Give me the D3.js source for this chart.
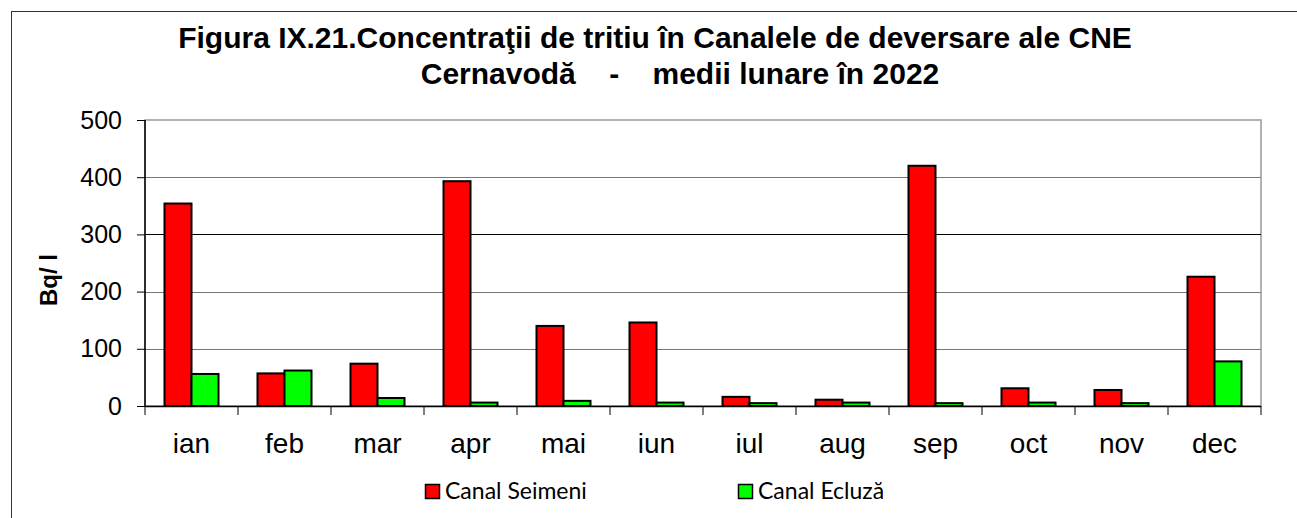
<!DOCTYPE html>
<html><head><meta charset="utf-8">
<script src="https://cdn.jsdelivr.net/npm/d3@7"></script>
<style>body{margin:0;background:#fff}svg{display:block}</style>
</head><body>
<script>
const months = ["ian","feb","mar","apr","mai","iun","iul","aug","sep","oct","nov","dec"];
const seimeni = [354, 57, 74, 393, 140, 146, 16, 11, 420, 31, 28, 226];
const ecluza = [56, 62, 14, 6, 9, 6, 5, 6, 5, 6, 5, 78];
const seriesNames = ["Canal Seimeni", "Canal Ecluză"];
const yTicks = [0, 100, 200, 300, 400, 500];
const titleLines = ["Figura IX.21.Concentraţii de tritiu în Canalele de deversare ale CNE", "Cernavodă    -    medii lunare în 2022"];
const yLabel = "Bq/ l";

const W = 1297, H = 518;
const svg = d3.select("body").append("svg").attr("width", W).attr("height", H);
svg.append("rect").attr("x", 11.5).attr("y", 11.5).attr("width", W + 20).attr("height", H + 20)
  .attr("fill", "none").attr("stroke", "#333").attr("stroke-width", 1);

const L = 145, R = 1261, T = 120, B = 406;
const x = d3.scaleBand().domain(months).range([L, R]).paddingInner(0).paddingOuter(0);
const inner = d3.scaleBand().domain([0, 1]).range([19.5, x.bandwidth() - 19.5]);
const y = d3.scaleLinear().domain([0, 500]).range([B, T]);
const FONT = "Liberation Sans, Arial, sans-serif";

// plot border
svg.append("rect").attr("x", L).attr("y", T).attr("width", R - L).attr("height", B - T)
  .attr("fill", "none").attr("stroke", "#999").attr("stroke-width", 1.5);
// gridlines
svg.append("g").selectAll("line").data(yTicks.filter(d => d > 0 && d < 500)).join("line")
  .attr("x1", L).attr("x2", R).attr("y1", d => Math.round(y(d)) + 0.5).attr("y2", d => Math.round(y(d)) + 0.5)
  .attr("stroke", d => d === 300 ? "#000" : "#777").attr("stroke-width", 1);

// bars
const data = [seimeni, ecluza];
const colors = ["#ff0000", "#00ff00"];
data.forEach((vals, si) => {
  svg.append("g").selectAll("rect").data(vals).join("rect")
    .attr("x", (d, i) => x(months[i]) + inner(si))
    .attr("y", d => y(d))
    .attr("width", inner.bandwidth())
    .attr("height", d => B - y(d))
    .attr("fill", colors[si]).attr("stroke", "#000").attr("stroke-width", 2);
});

// y axis
const yAxis = d3.axisLeft(y).tickValues(yTicks).tickSize(8).tickPadding(15);
const gy = svg.append("g").attr("transform", `translate(${L},0)`).call(yAxis);
gy.select(".domain").attr("stroke", "#000").attr("stroke-width", 1.5).attr("d", `M0,${T}V${B}`);
gy.selectAll(".tick line").attr("stroke", "#000");
gy.selectAll("text").attr("font-family", FONT).attr("font-size", 25).attr("fill", "#000");

// x axis
const gx = svg.append("g").attr("transform", `translate(0,${B})`);
gx.append("line").attr("x1", L).attr("x2", R).attr("y1", 0.5).attr("y2", 0.5).attr("stroke", "#000").attr("stroke-width", 1.5);
const boundaries = months.map(m => x(m)).concat([R]);
gx.selectAll("line.t").data(boundaries).join("line").attr("class", "t")
  .attr("x1", d => d).attr("x2", d => d).attr("y1", 0).attr("y2", 9).attr("stroke", "#000");
gx.selectAll("text").data(months).join("text")
  .attr("x", d => x(d) + x.bandwidth() / 2).attr("y", 47)
  .attr("text-anchor", "middle").attr("font-family", FONT)
  .attr("font-size", 28).text(d => d);

// y label
svg.append("text").attr("transform", `translate(57,280) rotate(-90)`)
  .attr("text-anchor", "middle").attr("font-family", FONT)
  .attr("font-weight", "bold").attr("font-size", 24).text(yLabel);

// title
const titleX = [655, 680];
svg.append("g").selectAll("text").data(titleLines).join("text")
  .attr("x", (d, i) => titleX[i]).attr("y", (d, i) => 48 + i * 36)
  .attr("text-anchor", "middle").attr("font-family", FONT)
  .style("white-space", "pre")
  .attr("font-weight", "bold").attr("font-size", 30).text(d => d);

// legend
const legX = [425, 738];
const lg = svg.append("g").selectAll("g").data(seriesNames).join("g")
  .attr("transform", (d, i) => `translate(${legX[i]},484)`);
lg.append("rect").attr("x", 0.5).attr("y", 0.5).attr("width", 14).attr("height", 14)
  .attr("fill", (d, i) => colors[i]).attr("stroke", "#000").attr("stroke-width", 1.5);
lg.append("text").attr("x", 20).attr("y", 15).attr("font-family", "Lato, Open Sans, sans-serif")
  .attr("font-size", 23).text(d => d);
</script>
</body></html>
